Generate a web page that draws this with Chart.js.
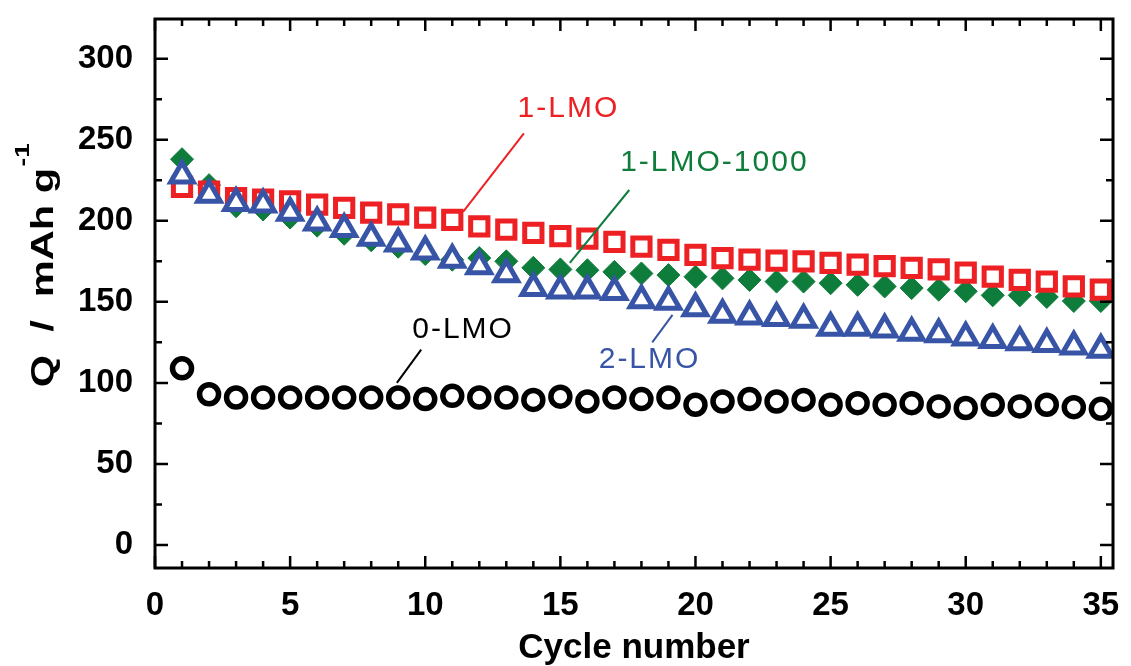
<!DOCTYPE html>
<html>
<head>
<meta charset="utf-8">
<script src="https://cdn.jsdelivr.net/npm/chart.js@4.4.0/dist/chart.umd.min.js"></script>
<style>
  html, body { margin: 0; padding: 0; background: #fff; }
  #wrap { width: 1131px; height: 666px; }
</style>
</head>
<body>
<div id="wrap"><canvas id="chart"></canvas></div>
<script>
const cycles = [1, 2, 3, 4, 5, 6, 7, 8, 9, 10, 11, 12, 13, 14, 15, 16, 17, 18, 19, 20,
  21, 22, 23, 24, 25, 26, 27, 28, 29, 30, 31, 32, 33, 34, 35];

const lmo0 = [109, 93, 91, 91, 91, 91, 91, 91, 91, 90, 92, 91, 91, 89.5, 91.5, 88.5, 91, 90, 91, 86.5,
  88.5, 90, 88.5, 89.5, 86.5, 87.5, 86.5, 87.5, 85.5, 84.5, 86.5, 85.5, 86.5, 85, 84];
const lmo1 = [221, 218, 214, 213, 212, 210, 208, 205, 204, 202, 200.5, 196.5, 194.5, 192.5, 190.5, 189, 187, 184, 182, 179,
  177, 176, 175.5, 175, 174, 173, 172, 171, 170, 168, 165.5, 163.5, 162.5, 159.5, 157.5];
const lmo1000 = [238, 222, 209, 207, 202, 197, 192, 188, 184, 179.5, 176, 177, 175, 171, 170, 169.5, 168.5, 167.5, 166.5, 165.5,
  164.5, 163.5, 162.5, 162.5, 161.5, 160.5, 159.5, 158.5, 157.5, 156.5, 154, 154, 153, 150.5, 150.5];
const lmo2 = [228, 216, 211, 210, 205, 199, 195, 189.5, 186, 181, 176, 172, 167, 158.5, 157, 157, 156, 151, 150, 146,
  142, 141, 140, 139, 134, 134, 133, 131, 130, 128, 126.5, 125, 124, 122.5, 120.5];

const xTicks = [0, 5, 10, 15, 20, 25, 30, 35];
const yTicks = [0, 50, 100, 150, 200, 250, 300];

const RED = 'rgb(237, 32, 36)';
const GREEN = 'rgb(14, 124, 58)';
const BLUE = 'rgb(56, 84, 166)';
const BLACK = '#000';

// label text, its anchor and leader line, in data units
const notes = [
  { text: '1-LMO', color: RED, at: [15.3, 269], line: [[13.65, 254], [11.4, 205.5]] },
  { text: '1-LMO-1000', color: GREEN, at: [20.7, 236], line: [[17.55, 219], [15.35, 174]] },
  { text: '0-LMO', color: BLACK, at: [11.4, 133], line: [[9.85, 120.5], [8.95, 100]] },
  { text: '2-LMO', color: BLUE, at: [18.3, 114], line: [[18.4, 125], [19.15, 142]] }
];

const toPoints = vals => cycles.map((c, i) => ({ x: c, y: vals[i] }));

const frame = {
  id: 'frame',
  afterDatasetsDraw(chart) {
    const { ctx, chartArea: a, scales: { x, y } } = chart;
    ctx.save();
    ctx.strokeStyle = '#000';
    ctx.lineWidth = 2.5;
    ctx.beginPath();
    for (let v = 0; v <= 35; v++) {
      const px = x.getPixelForValue(v);
      const len = v % 5 === 0 ? 12 : 7;
      ctx.moveTo(px, a.bottom); ctx.lineTo(px, a.bottom - len);
      ctx.moveTo(px, a.top); ctx.lineTo(px, a.top + len);
    }
    for (let v = 0; v <= 300; v += 25) {
      const py = y.getPixelForValue(v);
      const len = v % 50 === 0 ? 13 : 7;
      ctx.moveTo(a.left, py); ctx.lineTo(a.left + len, py);
      ctx.moveTo(a.right, py); ctx.lineTo(a.right - len, py);
    }
    ctx.stroke();
    ctx.lineWidth = 3;
    ctx.strokeRect(a.left, a.top, a.right - a.left, a.bottom - a.top);

    // leader lines and labels
    ctx.lineWidth = 2;
    ctx.font = '30px "Liberation Sans", Arial, sans-serif';
    ctx.letterSpacing = '2px';
    ctx.textAlign = 'center';
    ctx.textBaseline = 'middle';
    notes.forEach(n => {
      ctx.strokeStyle = n.color;
      ctx.beginPath();
      ctx.moveTo(x.getPixelForValue(n.line[0][0]), y.getPixelForValue(n.line[0][1]));
      ctx.lineTo(x.getPixelForValue(n.line[1][0]), y.getPixelForValue(n.line[1][1]));
      ctx.stroke();
      ctx.fillStyle = n.color;
      ctx.fillText(n.text, x.getPixelForValue(n.at[0]), y.getPixelForValue(n.at[1]));
    });
    ctx.restore();

    // y axis title with superscript
    ctx.save();
    ctx.translate(53, 266);
    ctx.rotate(-Math.PI / 2);
    ctx.scale(1.3, 1);
    ctx.fillStyle = '#000';
    ctx.textBaseline = 'alphabetic';
    const main = 'Q  /  mAh g';
    ctx.font = 'bold 32px "Liberation Sans", Arial, sans-serif';
    const w1 = ctx.measureText(main).width;
    ctx.font = 'bold 20px "Liberation Sans", Arial, sans-serif';
    const w2 = ctx.measureText('-1').width;
    const start = -(w1 + w2) / 2;
    ctx.font = 'bold 32px "Liberation Sans", Arial, sans-serif';
    ctx.fillText(main, start, 0);
    ctx.font = 'bold 20px "Liberation Sans", Arial, sans-serif';
    ctx.fillText('-1', start + w1 + 1, -24);
    ctx.restore();
  }
};

new Chart(document.getElementById('chart'), {
  type: 'scatter',
  data: {
    datasets: [
      {
        label: '2-LMO', data: toPoints(lmo2), pointStyle: 'triangle', pointRadius: 13,
        borderColor: BLUE, backgroundColor: '#fff', borderWidth: 5
      },
      {
        label: '1-LMO', data: toPoints(lmo1), pointStyle: 'rect', pointRadius: 12.2,
        borderColor: RED, backgroundColor: '#fff', borderWidth: 5
      },
      {
        label: '1-LMO-1000', data: toPoints(lmo1000), pointStyle: 'rectRot', pointRadius: 11.5,
        borderColor: GREEN, backgroundColor: GREEN, borderWidth: 1
      },
      {
        label: '0-LMO', data: toPoints(lmo0), pointStyle: 'circle', pointRadius: 9.5,
        borderColor: BLACK, backgroundColor: 'rgba(0,0,0,0)', borderWidth: 5.5
      }
    ]
  },
  options: {
    responsive: true,
    maintainAspectRatio: false,
    animation: false,
    layout: { padding: { top: 19, right: 14, left: 0, bottom: 0 } },
    plugins: { legend: { display: false }, tooltip: { enabled: false } },
    elements: { point: { hoverRadius: 12 } },
    scales: {
      x: {
        type: 'linear', min: 0, max: 35.45,
        afterBuildTicks: s => { s.ticks = xTicks.map(v => ({ value: v })); },
        afterFit: s => { s.height = 98; s.paddingLeft = 0; s.paddingRight = 0; },
        grid: { display: false },
        border: { display: false },
        ticks: {
          color: '#000', padding: 10, maxRotation: 0,
          font: { family: '"Liberation Sans", Arial, sans-serif', size: 33, weight: 'bold' }
        },
        title: {
          display: true, text: 'Cycle number', color: '#000', padding: { top: 0, bottom: 0 },
          font: { family: '"Liberation Sans", Arial, sans-serif', size: 35, weight: 'bold', lineHeight: 1 }
        }
      },
      y: {
        type: 'linear', min: -14.2, max: 324.5,
        afterBuildTicks: s => { s.ticks = yTicks.map(v => ({ value: v })); },
        afterFit: s => { s.width = 155; s.paddingTop = 0; s.paddingBottom = 0; },
        grid: { display: false },
        border: { display: false },
        ticks: {
          color: '#000', padding: 14,
          font: { family: '"Liberation Sans", Arial, sans-serif', size: 33, weight: 'bold' }
        }
      }
    }
  },
  plugins: [frame]
});
</script>
</body>
</html>
